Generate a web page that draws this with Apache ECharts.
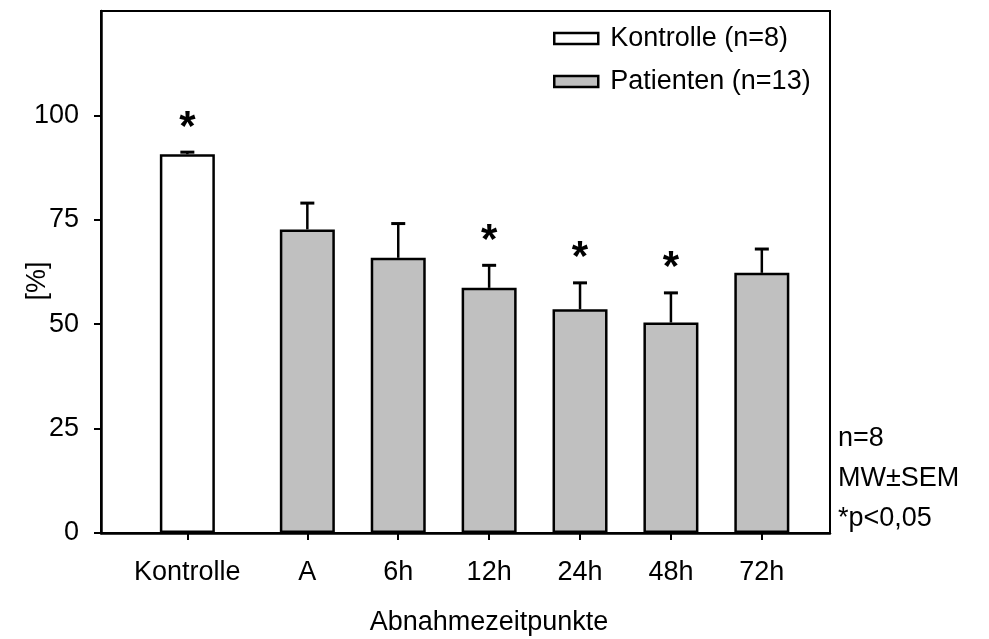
<!DOCTYPE html>
<html>
<head>
<meta charset="utf-8">
<title>Abnahmezeitpunkte</title>
<script src="https://cdn.jsdelivr.net/npm/echarts@6/dist/echarts.min.js"></script>
<style>
  html, body { margin: 0; padding: 0; background: #fff; }
  #chart { width: 989px; height: 639px; }
</style>
</head>
<body>
<div id="chart"></div>
<script>
// Sampling times (x categories) and where they sit on the x scale
const categories = ['Kontrolle', 'A', '6h', '12h', '24h', '48h', '72h'];
const xPos = [1, 2.32, 3.32, 4.32, 5.32, 6.32, 7.32];

// Mean values [%] and standard error of the mean
const means = [90.7, 72.7, 65.9, 58.7, 53.6, 50.4, 62.3];
const sems = [0.5, 6.3, 8.2, 5.4, 6.3, 7.1, 5.7];
// Significant difference (p < 0.05)
const significant = [true, false, false, true, true, true, false];

const yTicks = [0, 25, 50, 75, 100];

const legendControl = 'Kontrolle (n=8)';
const legendPatients = 'Patienten (n=13)';
const noteLines = ['n=8', 'MW±SEM', '*p<0,05'];

const FONT = '"Liberation Sans", Arial, sans-serif';
const FS = 27;
const BLACK = '#000';
const GREY = '#c0c0c0';

const controlData = [[xPos[0], means[0]]];
const patientData = xPos.slice(1).map((x, i) => [x, means[i + 1]]);
const errorData = xPos.map((x, i) => [x, means[i], sems[i], significant[i] ? 1 : 0]);

const chart = echarts.init(document.getElementById('chart'), null, { renderer: 'canvas' });

chart.setOption({
  animation: false,
  backgroundColor: '#fff',
  textStyle: { fontFamily: FONT },
  grid: {
    left: 101, right: 159, top: 11, bottom: 106,
    outerBoundsMode: 'none',
    containLabel: false,
    show: true, borderColor: BLACK, borderWidth: 2, backgroundColor: 'transparent'
  },
  legend: {
    orient: 'vertical',
    left: 553, top: 25,
    padding: 0,
    itemWidth: 44, itemHeight: 11,
    itemGap: 16,
    icon: 'rect',
    selectedMode: false,
    textStyle: { fontFamily: FONT, fontSize: FS, color: BLACK, padding: [0, 0, 0, 7] },
    data: [
      { name: legendControl, itemStyle: { color: '#fff', borderColor: BLACK, borderWidth: 2.5 } },
      { name: legendPatients, itemStyle: { color: GREY, borderColor: BLACK, borderWidth: 2.5 } }
    ]
  },
  xAxis: {
    type: 'value',
    min: 0.05, max: 8.07,
    name: 'Abnahmezeitpunkte',
    nameLocation: 'middle',
    nameGap: 76,
    nameMoveOverlap: false,
    nameTextStyle: { fontFamily: FONT, fontSize: FS, color: BLACK, padding: [0, 0, 0, 47] },
    splitLine: { show: false },
    axisLine: { show: true, onZero: false, lineStyle: { color: BLACK, width: 2.5 } },
    axisTick: { show: true, inside: false, length: 7, customValues: xPos, lineStyle: { color: BLACK, width: 2 } },
    axisLabel: {
      show: true, margin: 26, customValues: xPos,
      fontFamily: FONT, fontSize: FS, color: BLACK,
      formatter: v => {
        const i = xPos.findIndex(p => Math.abs(p - v) < 1e-6);
        return i >= 0 ? categories[i] : '';
      }
    }
  },
  yAxis: {
    type: 'value',
    min: 0, max: 125, interval: 25,
    name: '[%]',
    nameLocation: 'middle',
    nameGap: 50,
    nameMoveOverlap: false,
    nameRotate: 90,
    nameTextStyle: { fontFamily: FONT, fontSize: FS, color: BLACK, padding: [0, 18, 0, 0] },
    splitLine: { show: false },
    axisLine: { show: true, lineStyle: { color: BLACK, width: 2.5 } },
    axisTick: { show: true, inside: false, length: 7, customValues: yTicks, lineStyle: { color: BLACK, width: 2 } },
    axisLabel: {
      show: true, margin: 22, customValues: yTicks,
      fontFamily: FONT, fontSize: FS, color: BLACK
    }
  },
  series: [
    {
      name: legendControl,
      type: 'bar',
      barWidth: 55,
      data: controlData,
      itemStyle: { color: '#fff', borderColor: BLACK, borderWidth: 2.5 },
      z: 2
    },
    {
      name: legendPatients,
      type: 'bar',
      barWidth: 55,
      barGap: '-100%',
      data: patientData,
      itemStyle: { color: GREY, borderColor: BLACK, borderWidth: 2.5 },
      z: 2
    },
    {
      name: 'SEM',
      type: 'custom',
      data: errorData,
      z: 3,
      renderItem: (params, api) => {
        const x = api.value(0);
        const m = api.value(1);
        const s = api.value(2);
        const sig = api.value(3);
        const base = api.coord([x, m]);
        const top = api.coord([x, m + s]);
        const half = 7;
        const children = [
          { type: 'line', shape: { x1: base[0], y1: base[1], x2: top[0], y2: top[1] },
            style: { stroke: BLACK, lineWidth: 2.5 } },
          { type: 'line', shape: { x1: top[0] - half, y1: top[1], x2: top[0] + half, y2: top[1] },
            style: { stroke: BLACK, lineWidth: 3 } }
        ];
        if (sig) {
          children.push({
            type: 'text',
            style: {
              x: top[0], y: top[1] - 3, text: '*',
              font: 'bold 42px ' + FONT,
              fill: BLACK, align: 'center', verticalAlign: 'bottom'
            }
          });
        }
        return { type: 'group', children };
      }
    }
  ],
  graphic: [
    {
      type: 'text',
      left: 838, top: 419,
      style: {
        text: noteLines.join('\n'),
        font: FS + 'px ' + FONT,
        lineHeight: 40,
        fill: BLACK
      }
    }
  ]
});
</script>
</body>
</html>
